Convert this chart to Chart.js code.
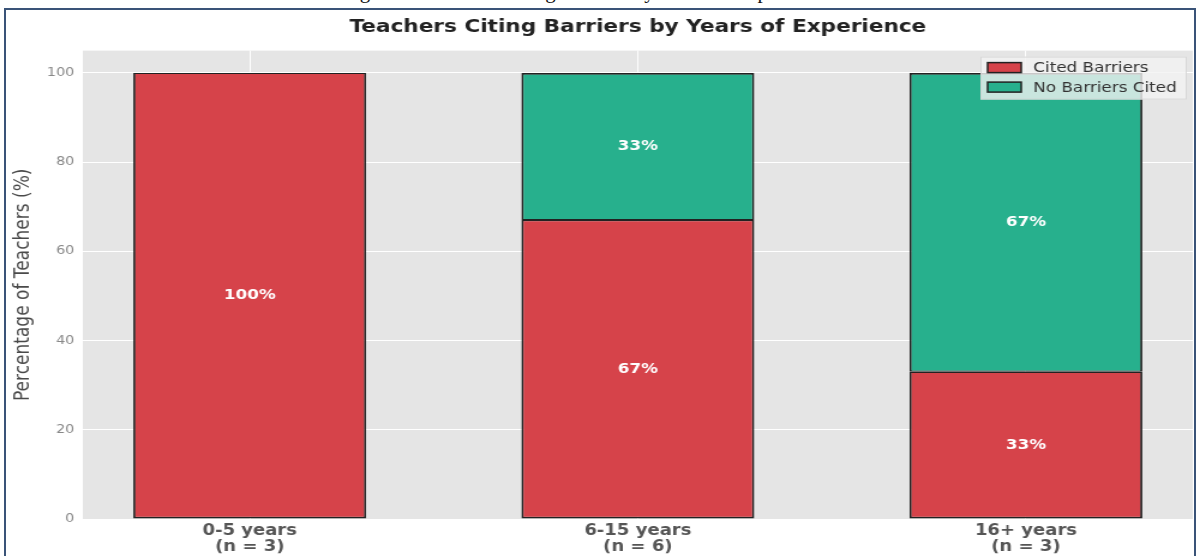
<!DOCTYPE html>
<html>
<head>
<meta charset="utf-8">
<script src="https://cdn.jsdelivr.net/npm/chart.js@4.4.1/dist/chart.umd.min.js"></script>
<style>
  html, body { margin: 0; padding: 0; background: #fff; overflow: hidden; }
  body { width: 1200px; height: 556px; position: relative; }
  #chart { position: absolute; left: 0; top: 0; }
  .frame { position: absolute; left: 4px; top: 8px; width: 1188px; height: 600px;
           border: 2px solid #3a5378; border-bottom: none; pointer-events: none; }
  .caption { position: absolute; left: 0; top: -19px; width: 1224px; text-align: center;
             font-family: "Liberation Serif", serif; font-size: 21px; line-height: 21px; color: #111; }
</style>
</head>
<body>
<div class="caption">Figure 3: Teachers Citing Barriers by Years of Experience Level</div>
<canvas id="chart" width="1000" height="556" style="width:1200px;height:556px"></canvas>
<div class="frame"></div>
<script>
// teachers grouped by years of experience
var categories = ['0-5 years', '6-15 years', '16+ years'];
var groupSizes = [3, 6, 3];
var citedPct = [100, 67, 33];     // % citing barriers
var notCitedPct = [0, 33, 67];    // % citing no barriers
var yTicks = [0, 20, 40, 60, 80, 100];

var RED = '#d6434a';
var GREEN = '#27b08d';
var FONT = 'DejaVu Sans';

function points(vals) {
    var out = [];
    for (var i = 0; i < vals.length; i++) {
        out.push({x: i, y: vals[i]});
    }
    return out;
}

// gray panel behind the grid
var panelBg = {
    id: 'panelBg',
    beforeDraw: function(chart) {
        var a = chart.chartArea, ctx = chart.ctx;
        ctx.save();
        ctx.fillStyle = '#e5e5e5';
        ctx.fillRect(a.left, a.top, a.right - a.left, a.bottom - a.top);
        ctx.restore();
    }
};

// percent text in the middle of each segment
var segLabels = {
    id: 'segLabels',
    afterDatasetsDraw: function(chart) {
        var ctx = chart.ctx;
        ctx.save();
        ctx.fillStyle = '#fff';
        ctx.font = 'bold 14px "' + FONT + '"';
        ctx.textAlign = 'center';
        ctx.textBaseline = 'middle';
        chart.data.datasets.forEach(function(ds, i) {
            chart.getDatasetMeta(i).data.forEach(function(bar, j) {
                var v = ds.data[j].y;
                if (v <= 0) return;
                var p = bar.getProps(['x', 'y', 'base'], true);
                ctx.fillText(v + '%', p.x, (p.y + p.base) / 2);
            });
        });
        ctx.restore();
    }
};

// legend box in the upper right corner of the panel
var cornerLegend = {
    id: 'cornerLegend',
    afterDraw: function(chart) {
        var ctx = chart.ctx, a = chart.chartArea;
        var bx = a.right - 177, by = a.top + 6, bw = 172, bh = 43;
        ctx.save();
        ctx.fillStyle = 'rgba(242,242,242,0.8)';
        ctx.fillRect(bx, by, bw, bh);
        ctx.strokeStyle = 'rgba(210,210,210,0.8)';
        ctx.lineWidth = 1;
        ctx.strokeRect(bx + 0.5, by + 0.5, bw - 1, bh - 1);
        ctx.font = '14px "' + FONT + '"';
        ctx.textBaseline = 'middle';
        chart.data.datasets.forEach(function(ds, i) {
            var cy = by + 11 + i * 19.5;
            ctx.fillStyle = ds.backgroundColor;
            ctx.fillRect(bx + 6, cy - 5, 28, 10);
            ctx.strokeStyle = '#222';
            ctx.lineWidth = 1.5;
            ctx.strokeRect(bx + 6, cy - 5, 28, 10);
            ctx.fillStyle = '#333';
            ctx.fillText(ds.label, bx + 44, cy + 1);
        });
        ctx.restore();
    }
};

var ctx = document.getElementById('chart').getContext('2d');
var chart = new Chart(ctx, {
    type: 'bar',
    data: {
        datasets: [{
            label: 'Cited Barriers',
            data: points(citedPct),
            backgroundColor: RED,
            borderColor: '#222',
            borderWidth: { top: 1.2, left: 1.8, right: 1.8, bottom: 1.8 },
            borderSkipped: false,
            barPercentage: 0.6,
            categoryPercentage: 1
        }, {
            label: 'No Barriers Cited',
            data: points(notCitedPct),
            backgroundColor: GREEN,
            borderColor: '#222',
            borderWidth: { top: 1.8, left: 1.8, right: 1.8, bottom: 1.2 },
            borderSkipped: false,
            barPercentage: 0.6,
            categoryPercentage: 1
        }]
    },
    options: {
        responsive: false,
        devicePixelRatio: 1,
        animation: false,
        layout: { padding: { left: 0, right: 6, top: 0, bottom: 0 } },
        plugins: {
            legend: { display: false },
            tooltip: { enabled: false },
            title: {
                display: true,
                fullSize: false,
                text: 'Teachers Citing Barriers by Years of Experience',
                color: '#222',
                font: { family: FONT, size: 18, weight: 'bold' },
                padding: { top: 17, bottom: 12 }
            }
        },
        scales: {
            x: {
                type: 'linear',
                stacked: true,
                offset: false,
                min: -0.43,
                max: 2.43,
                afterBuildTicks: function(axis) {
                    axis.ticks = categories.map(function(c, i) { return {value: i}; });
                },
                afterFit: function(axis) { axis.height = 37; },
                grid: { color: '#ffffff', lineWidth: 1, drawTicks: false, offset: false },
                border: { display: false },
                ticks: {
                    color: '#555',
                    font: { family: FONT, size: 15, weight: 'bold', lineHeight: 1.07 },
                    padding: 4,
                    autoSkip: false,
                    maxRotation: 0,
                    callback: function(value) {
                        return [categories[value], '(n = ' + groupSizes[value] + ')'];
                    }
                }
            },
            y: {
                stacked: true,
                min: 0,
                max: 105,
                afterBuildTicks: function(axis) {
                    axis.ticks = yTicks.map(function(v) { return {value: v}; });
                },
                afterFit: function(axis) { axis.width = 69; },
                grid: { color: '#ffffff', lineWidth: 1, drawTicks: false },
                border: { display: false },
                ticks: {
                    color: '#888',
                    font: { family: FONT, size: 12 },
                    padding: 7
                },
                title: {
                    display: true,
                    text: 'Percentage of Teachers (%)',
                    color: '#4a4a4a',
                    font: { family: FONT, size: 17 },
                    padding: { top: 9, bottom: 0 }
                }
            }
        }
    },
    plugins: [panelBg, segLabels, cornerLegend]
});
</script>
</body>
</html>
